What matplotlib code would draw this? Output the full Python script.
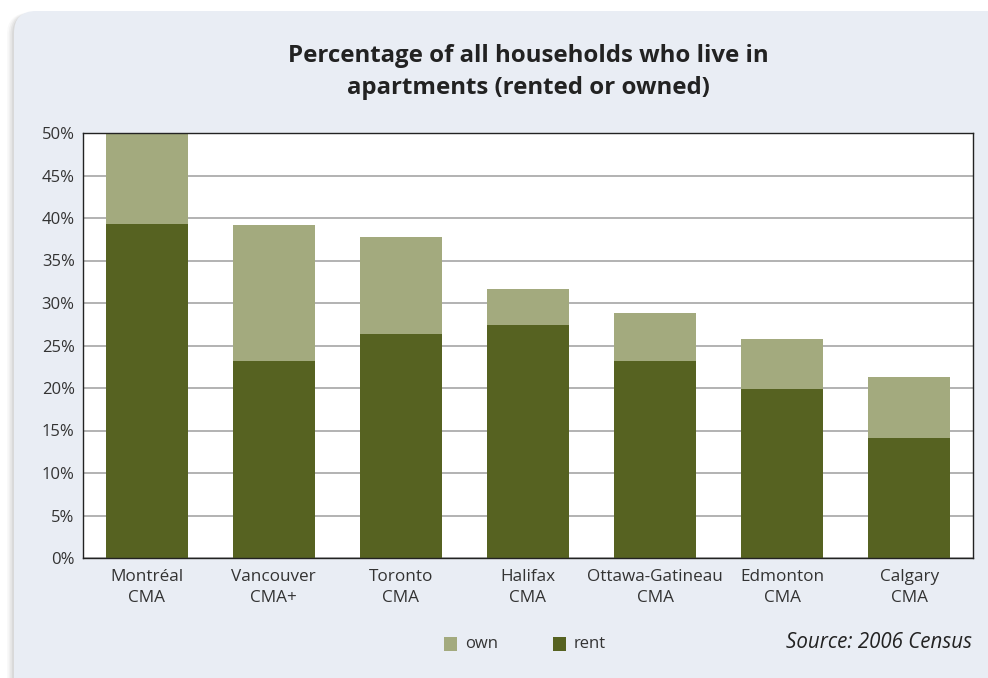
import matplotlib
matplotlib.use("Agg")
import matplotlib.pyplot as plt
from matplotlib.patches import FancyBboxPatch, Rectangle
import numpy as np

plt.rcParams["font.family"] = ["Open Sans", "DejaVu Sans"]

cities = ["Montréal\nCMA", "Vancouver\nCMA+", "Toronto\nCMA", "Halifax\nCMA",
          "Ottawa-Gatineau\nCMA", "Edmonton\nCMA", "Calgary\nCMA"]
rent = [39.3, 23.2, 26.4, 27.4, 23.2, 19.9, 14.1]
total = [50.0, 39.2, 37.8, 31.6, 28.8, 25.8, 21.3]
own = [t - r for t, r in zip(total, rent)]
yticks = list(range(0, 55, 5))

OWN_C = "#A3AA7E"
RENT_C = "#566221"
PANEL = "#E9EDF4"

W, H = 988, 678
fig = plt.figure(figsize=(W / 100, H / 100), dpi=100)
fig.patch.set_facecolor("white")

# background panel in pixel coordinates
bg = fig.add_axes([0, 0, 1, 1])
bg.set_xlim(0, W)
bg.set_ylim(H, 0)
bg.set_axis_off()
for k, a in enumerate([0.04, 0.06, 0.08, 0.10]):
    off = 7 - k * 1.7
    bg.add_patch(FancyBboxPatch((14 - off, 13), 1100, 760,
                                boxstyle="round,pad=0,rounding_size=22",
                                fc="#707070", ec="none", alpha=a))
bg.add_patch(FancyBboxPatch((14, 11), 1100, 760,
                            boxstyle="round,pad=0,rounding_size=22",
                            fc=PANEL, ec="none"))

ax = fig.add_axes([83 / W, 120 / H, 890 / W, 425 / H])
ax.set_facecolor("white")
x = np.arange(len(cities))
ax.bar(x, rent, width=0.645, color=RENT_C, zorder=2)
ax.bar(x, own, bottom=rent, width=0.645, color=OWN_C, zorder=2)
ax.set_xlim(-0.5, len(cities) - 0.5)
ax.set_ylim(0, 50)
ax.set_yticks(yticks)
ax.set_yticklabels([f"{v}%" for v in yticks])
ax.yaxis.grid(True, color="#A6A6A6", linewidth=1.2, zorder=1)
ax.set_xticks(x)
ax.set_xticklabels(cities, linespacing=1.4)
ax.tick_params(axis="both", length=0, labelsize=12, colors="#333333")
ax.tick_params(axis="x", pad=8, labelsize=12.3)
ax.tick_params(axis="y", pad=6)
for s in ax.spines.values():
    s.set_color("#222222")
    s.set_linewidth(1.0)

fig.text(528 / W, 1 - 72 / H, "Percentage of all households who live in\napartments (rented or owned)",
         ha="center", va="center", fontsize=17.3, fontweight="bold",
         color="#222222", linespacing=1.45)

# legend
for px, label, c in [(444, "own", OWN_C), (553, "rent", RENT_C)]:
    bg.add_patch(Rectangle((px, 637), 13, 14, fc=c, ec="none"))
    bg.text(px + 21, 644, label, ha="left", va="center", fontsize=12, color="#333333")

bg.text(972, 642, "Source: 2006 Census", ha="right", va="center", fontsize=14.8,
        style="italic", color="#222222")

fig.savefig("out.png", dpi=100, facecolor="white")
